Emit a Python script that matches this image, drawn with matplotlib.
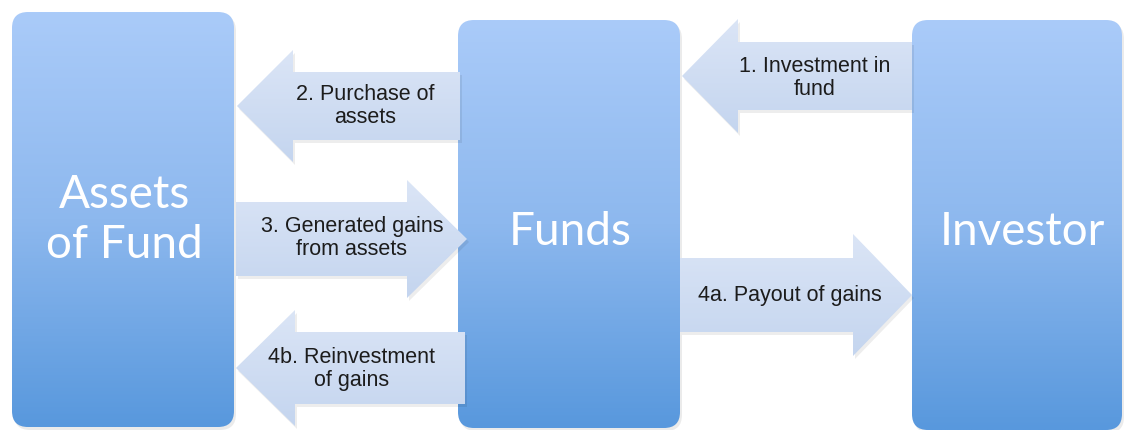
import numpy as np
import matplotlib.pyplot as plt
from matplotlib.patches import FancyBboxPatch, Polygon
from matplotlib.colors import LinearSegmentedColormap

# 节点与箭头文字
node_labels = ['Assets\nof Fund', 'Funds', 'Investor']
arrow_labels = ['1. Investment in\nfund', '2. Purchase of\nassets',
                '3. Generated gains\nfrom assets', '4a. Payout of gains',
                '4b. Reinvestment\nof gains']

# 布局（像素坐标）
W, H = 1124, 430
boxes = [(12, 12, 222, 415), (458, 20, 222, 408), (912, 20, 210, 410)]
box_text_pos = [(124, 220), (570, 232), (1022, 232)]
# (尾部x, 头部底x, 尖端x, 中心y, 箭身半高, 箭头半高)
arrows = [(912, 738, 682, 76, 34, 57),
          (460, 293, 237, 106, 34, 56),
          (236, 407, 467, 239, 37, 59),
          (680, 853, 912, 295, 37, 61),
          (465, 295, 236, 368, 36, 58)]
arrow_text_pos = [(815, 78), (365, 106), (352, 238), (790, 296), (352, 369)]

box_cmap = LinearSegmentedColormap.from_list('box', ['#aacbf9', '#8db8ee', '#5898dd'])
arrow_cmap = LinearSegmentedColormap.from_list('arr', ['#dbe5f6', '#c4d5ef'])

fig = plt.figure(figsize=(W / 100, H / 100), dpi=100)
ax = fig.add_axes([0, 0, 1, 1])
ax.set_xlim(0, W)
ax.set_ylim(H, 0)
ax.axis('off')

grad = np.linspace(0, 1, 256).reshape(-1, 1)

#  绘制三个圆角矩形
for (x, y, w, h), label, (tx, ty) in zip(boxes, node_labels, box_text_pos):
    shadow = FancyBboxPatch((x + 2, y + 3), w, h, boxstyle='round,pad=0,rounding_size=16',
                            fc='#000000', ec='none', alpha=0.08, zorder=1)
    ax.add_patch(shadow)
    patch = FancyBboxPatch((x, y), w, h, boxstyle='round,pad=0,rounding_size=16',
                           fc='none', ec='none', zorder=2)
    ax.add_patch(patch)
    im = ax.imshow(grad, cmap=box_cmap, extent=(x, x + w, y + h, y), aspect='auto', zorder=2)
    im.set_clip_path(patch)
    ax.text(tx, ty, label, color='white', fontsize=33, family='Lato',
            ha='center', va='center', linespacing=1.22, zorder=5)

#  绘制箭头
for (xe, xb, xt, yc, sh, hh), label, (tx, ty) in zip(arrows, arrow_labels, arrow_text_pos):
    pts = [(xe, yc - sh), (xb, yc - sh), (xb, yc - hh), (xt, yc),
           (xb, yc + hh), (xb, yc + sh), (xe, yc + sh)]
    shadow = Polygon([(px + 2, py + 3) for px, py in pts], closed=True,
                     fc='#000000', ec='none', alpha=0.07, zorder=3)
    ax.add_patch(shadow)
    poly = Polygon(pts, closed=True, fc='none', ec='none', zorder=4)
    ax.add_patch(poly)
    x0, x1 = min(xe, xt), max(xe, xt)
    im = ax.imshow(grad, cmap=arrow_cmap, extent=(x0, x1, yc + hh, yc - hh),
                   aspect='auto', zorder=4)
    im.set_clip_path(poly)
    ax.text(tx, ty, label, color='#1c1c1c', fontsize=15.5, family='Liberation Sans',
            ha='center', va='center', linespacing=1.1, zorder=6)

fig.savefig('out.png', dpi=100)
